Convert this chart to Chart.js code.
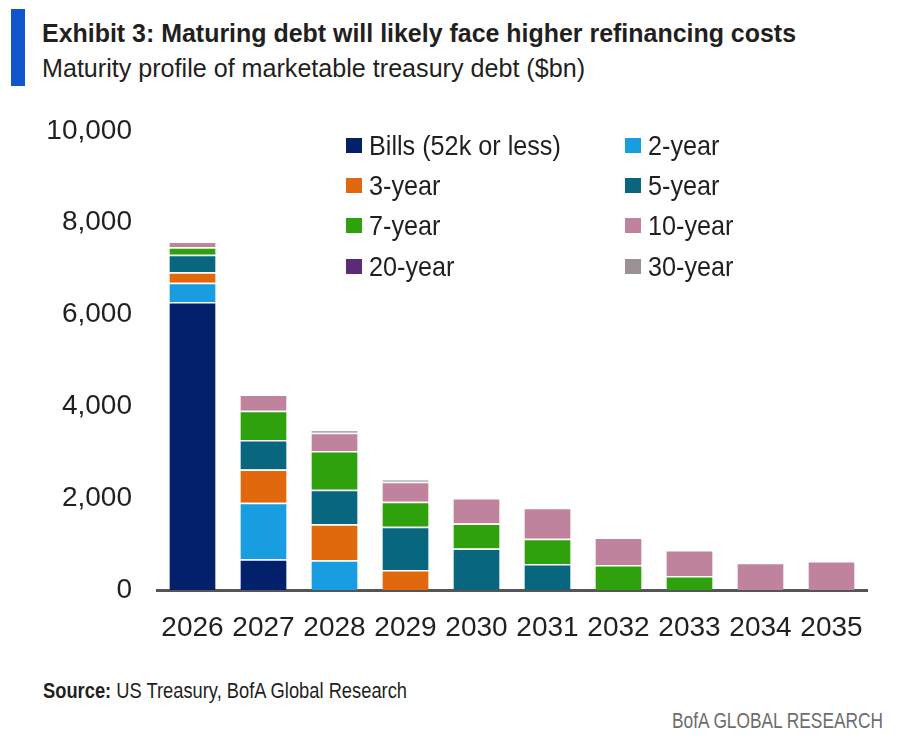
<!DOCTYPE html>
<html>
<head>
<meta charset="utf-8">
<script src="https://cdn.jsdelivr.net/npm/chart.js@4.4.1/dist/chart.umd.min.js"></script>
<style>
  body { margin: 0; background: #fff; width: 902px; height: 738px; overflow: hidden; font-family: 'Liberation Sans', Arial, sans-serif; color: #231f20; }
  .fit { position: absolute; white-space: nowrap; line-height: 1; transform-origin: 0 0; }
  #bar { position: absolute; left: 11px; top: 9px; width: 14px; height: 77px; background: #1155cc; }
  #title { left: 42px; top: 21px; font-size: 25px; font-weight: bold; }
  #subtitle { left: 42px; top: 55px; font-size: 26px; }
  #wrap { position: absolute; left: 0; top: 89px; width: 902px; height: 571px; }
  .item { position: absolute; font-size: 28px; white-space: nowrap; line-height: 1; }
  .item .sw { position: absolute; left: 0; top: 6px; width: 16px; height: 15px; }
  .item .tx { position: absolute; left: 23px; top: 0; transform: scaleX(0.9); transform-origin: 0 0; white-space: nowrap; }
  #source { left: 43px; top: 680px; font-size: 22px; }
  #brand { left: 672px; top: 710px; font-size: 22px; color: #6d6d6d; }
</style>
</head>
<body>
<div id="bar"></div>
<div id="title" class="fit" data-w="754">Exhibit 3: Maturing debt will likely face higher refinancing costs</div>
<div id="subtitle" class="fit" data-w="543">Maturity profile of marketable treasury debt ($bn)</div>
<div id="wrap"><canvas id="chart"></canvas></div>
<div id="legend"></div>
<div id="source" class="fit" data-w="364"><b>Source:</b> US Treasury, BofA Global Research</div>
<div id="brand" class="fit" data-w="211">BofA GLOBAL RESEARCH</div>
<script>
const years = ['2026', '2027', '2028', '2029', '2030', '2031', '2032', '2033', '2034', '2035'];
const seriesNames = ['Bills (52k or less)', '2-year', '3-year', '5-year', '7-year', '10-year', '20-year', '30-year'];
const seriesColors = ['#03216a', '#189de0', '#e1680c', '#08677f', '#2ea10d', '#c0839d', '#5b2a78', '#9b9195'];

const bills   = [6270, 670, 0, 0, 0, 0, 0, 0, 0, 0];
const y2      = [420, 1230, 650, 0, 0, 0, 0, 0, 0, 0];
const y3      = [230, 725, 780, 435, 0, 0, 0, 0, 0, 0];
const y5      = [380, 640, 755, 940, 905, 565, 0, 0, 0, 0];
const y7      = [165, 640, 840, 545, 545, 550, 545, 305, 0, 0];
const y10     = [125, 355, 400, 435, 555, 675, 600, 565, 595, 630];
const y20     = [0, 0, 0, 0, 0, 0, 0, 0, 0, 0];
const y30     = [0, 0, 60, 60, 0, 0, 0, 0, 0, 0];
const seriesValues = [bills, y2, y3, y5, y7, y10, y20, y30];

const yTicks = [0, 2000, 4000, 6000, 8000, 10000];

// squeeze html text to the widths measured on the reference
document.querySelectorAll('.fit').forEach(el => {
  const w = el.getBoundingClientRect().width;
  el.style.transform = 'scaleX(' + (el.dataset.w / w) + ')';
});

// legend, two columns, drawn as html
const legendPos = [[346, 145], [625, 145], [346, 185], [625, 185], [346, 225], [625, 225], [346, 266], [625, 266]];
const legend = document.getElementById('legend');
seriesNames.forEach((name, i) => {
  const d = document.createElement('div');
  d.className = 'item';
  d.style.left = legendPos[i][0] + 'px';
  d.style.top = (legendPos[i][1] - 13.5) + 'px';
  d.innerHTML = '<span class="sw" style="background:' + seriesColors[i] + '"></span><span class="tx">' + name + '</span>';
  legend.appendChild(d);
});

const font = "'Liberation Sans', Arial, sans-serif";

new Chart(document.getElementById('chart'), {
  type: 'bar',
  data: {
    labels: years,
    datasets: seriesNames.map((name, i) => ({
      label: name,
      data: seriesValues[i],
      backgroundColor: seriesColors[i],
      borderColor: '#ffffff',
      borderWidth: { top: 1.5, bottom: 0, left: 0, right: 0 },
      borderSkipped: false,
      categoryPercentage: 1,
      barPercentage: 0.65
    }))
  },
  options: {
    responsive: true,
    maintainAspectRatio: false,
    animation: false,
    layout: { padding: { top: 0, right: 35, bottom: 0, left: 0 } },
    plugins: { legend: { display: false }, tooltip: { enabled: false } },
    scales: {
      x: {
        stacked: true,
        grid: { display: false, drawTicks: false },
        border: { display: true, color: '#555555', width: 3 },
        ticks: { color: '#231f20', font: { family: font, size: 28 }, padding: 21, maxRotation: 0, autoSkip: false },
        afterFit: s => { s.height = 70; }
      },
      y: {
        stacked: true,
        min: 0,
        max: 10000,
        afterBuildTicks: s => { s.ticks = yTicks.map(v => ({ value: v })); },
        grid: { display: false, drawTicks: false },
        border: { display: false },
        ticks: {
          color: '#231f20',
          font: { family: font, size: 28 },
          padding: 25,
          callback: v => v.toLocaleString('en-US')
        },
        afterFit: s => { s.width = 157; }
      }
    }
  }
});
</script>
</body>
</html>
